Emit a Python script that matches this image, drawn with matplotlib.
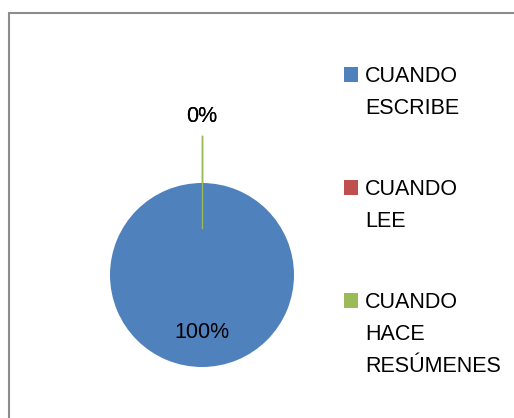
import matplotlib.pyplot as plt
from matplotlib.patches import Rectangle
import numpy as np

categories = ["CUANDO\nESCRIBE", "CUANDO\nLEE", "CUANDO\nHACE\nRESÚMENES"]
values = [100, 0, 0]
colors = ["#4F81BD", "#C0504D", "#9BBB59"]

plt.rcParams['font.family'] = ['Liberation Sans', 'DejaVu Sans']
W, H = 514, 418
fig = plt.figure(figsize=(W / 100, H / 100), dpi=100)

def fx(x):
    return x / W

def fy(y):
    return 1 - y / H

# chart border (cut off at right and bottom like the source)
fig.patches.append(Rectangle((fx(8.5), fy(600)), fx(800), fy(12.5) - fy(600),
                             transform=fig.transFigure, fill=False,
                             edgecolor="#8c8c8c", lw=1.5))

cx, cy, r = 202, 275, 92
ax = fig.add_axes([fx(cx - r), fy(cy + r), (2 * r) / W, (2 * r) / H])
wedges, _ = ax.pie(values, colors=colors, startangle=90, counterclock=False,
                   radius=1, wedgeprops=dict(linewidth=0))
ax.set_xlim(-1, 1)
ax.set_ylim(-1, 1)
ax.set_aspect('auto')
ax.axis('off')

total = sum(values)
for w, v, c in zip(wedges, values, colors):
    ang = np.deg2rad((w.theta1 + w.theta2) / 2)
    pct = f"{v / total * 100:.0f}%"
    if v == 0:
        ax.plot([0.51 * np.cos(ang), 1.51 * np.cos(ang)],
                [0.51 * np.sin(ang), 1.51 * np.sin(ang)],
                color=c, lw=1, clip_on=False)
        ax.text(1.72 * np.cos(ang), 1.72 * np.sin(ang), pct, ha='center',
                va='center', fontsize=15.5, clip_on=False)
    else:
        ax.text(0.63 * np.cos(ang), 0.63 * np.sin(ang), pct, ha='center',
                va='center', fontsize=15.5)

# legend
base0, entry_gap, line_gap = 82, 113, 32
for i, (lab, c) in enumerate(zip(categories, colors)):
    b = base0 + i * entry_gap
    fig.patches.append(Rectangle((fx(344), fy(b)), fx(14), fy(b - 15) - fy(b),
                                 transform=fig.transFigure, color=c, lw=0))
    for j, line in enumerate(lab.split("\n")):
        fig.text(fx(365), fy(b + j * line_gap), line, fontsize=15.5,
                 va='baseline', ha='left')

plt.savefig('out.png', dpi=100)
